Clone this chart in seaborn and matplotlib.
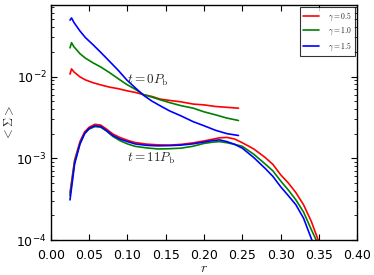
import numpy as np
import pandas as pd
import matplotlib
matplotlib.use("Agg")
import matplotlib.pyplot as plt
import seaborn as sns

# radius grid and azimuthally averaged surface density, t = 0 P_b
r0 = [0.025, 0.027, 0.03, 0.038, 0.045, 0.055, 0.065, 0.077, 0.088, 0.099,
      0.11, 0.121, 0.132, 0.1425, 0.155, 0.17, 0.186, 0.2, 0.215, 0.23, 0.245]
red0 = [0.0107, 0.0124, 0.0114, 0.0099, 0.0091, 0.0084, 0.0079, 0.0074, 0.0071, 0.0067,
        0.0064, 0.0060, 0.0057, 0.0053, 0.0051, 0.0049, 0.0046, 0.0045, 0.0043, 0.0042, 0.0041]
green0 = [0.0224, 0.0259, 0.0232, 0.0190, 0.0168, 0.0147, 0.0131, 0.0111, 0.0094, 0.0080,
          0.0070, 0.0060, 0.0056, 0.0052, 0.0048, 0.0044, 0.0041, 0.0037, 0.0034, 0.0031, 0.0029]
blue0 = [0.049, 0.052, 0.046, 0.036, 0.030, 0.0245, 0.0198, 0.0152, 0.0119, 0.0091,
         0.0073, 0.0059, 0.0050, 0.0044, 0.0038, 0.0033, 0.0028, 0.0025, 0.0022, 0.0020, 0.0019]

# t = 11 P_b
r11 = [0.025, 0.031, 0.038, 0.044, 0.05, 0.0575, 0.065, 0.072, 0.081, 0.09, 0.10,
       0.11, 0.125, 0.14, 0.155, 0.17, 0.185, 0.20, 0.21, 0.22, 0.23, 0.24, 0.25,
       0.265, 0.28, 0.29, 0.30, 0.31, 0.32, 0.33, 0.34, 0.35, 0.36]
red11 = [0.00038, 0.00095, 0.0016, 0.0021, 0.0024, 0.0026, 0.00255, 0.0023, 0.00198,
         0.0018, 0.00166, 0.00156, 0.00149, 0.00146, 0.00145, 0.00148, 0.00154, 0.00163,
         0.0017, 0.00178, 0.0018, 0.00172, 0.00155, 0.0013, 0.00102, 0.00084, 0.00063,
         0.0005, 0.00038, 0.00027, 0.00017, 0.000095, 0.00005]
green11 = [0.00035, 0.0009, 0.0015, 0.002, 0.00228, 0.00244, 0.0024, 0.00218, 0.00185,
           0.00165, 0.0015, 0.0014, 0.00134, 0.0013, 0.00131, 0.00133, 0.0014, 0.00152,
           0.00157, 0.0016, 0.00155, 0.00148, 0.0014, 0.00112, 0.00085, 0.0007, 0.00053,
           0.00041, 0.00031, 0.00022, 0.000135, 0.000085, 0.00004]
blue11 = [0.00031, 0.00085, 0.0015, 0.002, 0.00232, 0.0025, 0.00245, 0.0022, 0.0019,
          0.00172, 0.0016, 0.0015, 0.00144, 0.00142, 0.00143, 0.00145, 0.0015, 0.00158,
          0.00164, 0.00168, 0.0016, 0.00148, 0.00133, 0.00102, 0.00075, 0.0006, 0.00045,
          0.00035, 0.00027, 0.000185, 0.000105, 0.00006, 0.00003]

labels = [r"$\gamma=0.5$", r"$\gamma=1.0$", r"$\gamma=1.5$"]
colors = ["#ff0000", "#008000", "#0000ff"]

sns.set_style("ticks", {"xtick.direction": "in", "ytick.direction": "in"})
plt.rcParams["font.family"] = ["DejaVu Sans"]
plt.rcParams["mathtext.fontset"] = "cm"
plt.rcParams["axes.unicode_minus"] = False

fig = plt.figure(figsize=(3.74, 2.75), dpi=100)
ax = fig.add_axes([0.136, 0.127, 0.819, 0.855])

for lab, col, s0, s11 in zip(labels, colors, [red0, green0, blue0], [red11, green11, blue11]):
    sns.lineplot(x=r0, y=s0, color=col, lw=1.2, ax=ax, label=lab)
    sns.lineplot(x=r11, y=s11, color=col, lw=1.2, ax=ax)

ax.set_yscale("log")
ax.set_xlim(0, 0.40)
ax.set_ylim(1e-4, 0.075)
ax.set_xticks(np.arange(0, 0.41, 0.05))
ax.set_xticklabels([f"{v:.2f}" for v in np.arange(0, 0.41, 0.05)])
ax.tick_params(which="both", top=True, right=True, labelsize=9, colors="black")
ax.tick_params(which="major", length=4)
ax.tick_params(which="minor", length=2)
ax.tick_params(axis="y", pad=3)
ax.tick_params(axis="x", pad=6.5)
for sp in ax.spines.values():
    sp.set_color("black")
    sp.set_linewidth(1.0)

ax.set_xlabel(r"$r$", fontsize=10, labelpad=-1)
ax.set_ylabel(r"$<\Sigma>$", fontsize=9)
ax.yaxis.set_label_coords(-0.115, 0.5)

ax.text(0.10, 0.0089, r"$t=0P_{\rm b}$", fontsize=9.5, va="center", ha="left")
ax.text(0.10, 0.00101, r"$t=11P_{\rm b}$", fontsize=9.5, va="center", ha="left")

leg = ax.legend(loc="upper right", fontsize=5.5, frameon=True, fancybox=False,
                handlelength=2.0, borderpad=0.4, labelspacing=0.35,
                borderaxespad=0.3, handletextpad=1.2)
leg.get_frame().set_edgecolor("black")
leg.get_frame().set_linewidth(0.8)

fig.savefig("out.png", dpi=100)
